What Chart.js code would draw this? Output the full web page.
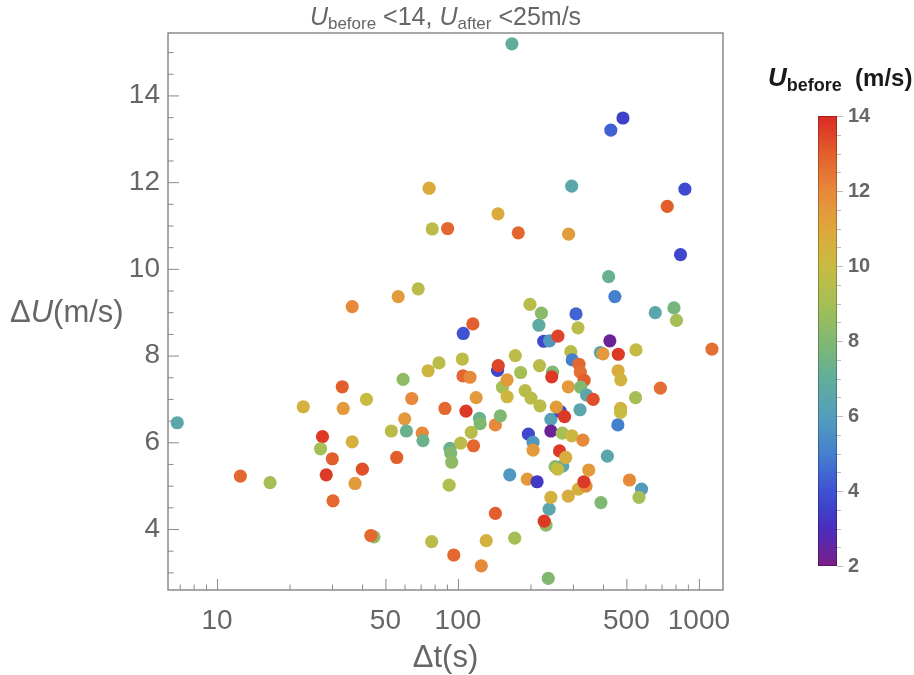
<!DOCTYPE html>
<html><head><meta charset="utf-8">
<script src="https://cdn.jsdelivr.net/npm/chart.js@4.4.0/dist/chart.umd.min.js"></script>
<style>html,body{margin:0;padding:0;background:#fff;overflow:hidden}</style>
</head><body>
<canvas id="c" width="914" height="675"></canvas>
<script>
// ---- data ----
const dt = [6.84,12.5,16.6,22.8,33.1,33.4,27.4,26.9,30.1,28.4,30.3,36.4,40.1,37.4,36.4,41.7,44.8,43.5,52.9,55.7,
56.5,59.2,60.1,61.1,64.3,68.4,71.1,71.6,75.2,75.9,77.8,78.2,83.4,88.3,90.6,91.9,92.6,93.3,94.2,96.1,
102.6,104.3,105.2,104.9,112.2,108,113.5,115.3,116,119,122.8,123.6,125,131,143,143,146,147,146.6,150,
153,160,160,164,167.5,172,173,178,182,190,194,196,199,201,205,205,213,216.7,218,219,
222,227,240,232,228,237,239,243,243,243,247,245,253,272,259,266,256,277,260,264,
271,280,287,287,288,294,296.5,297,298,309,315,318,322,334,316,321,323,330,340,333,
342,349,364,390,400,392,417,422,427,431,448,461,463,462,474,473,473,484,515,548,
546,578,564,659,692,739,788,807,839,875,1133];
const dU = [6.45,5.22,5.07,6.82,7.28,6.78,6.13,5.85,5.62,5.25,4.65,6.01,5.38,5.05,9.13,6.99,3.82,3.85,6.26,5.65,
9.36,7.45,6.54,6.26,7.01,9.54,6.21,6.04,7.65,11.86,3.71,10.92,7.83,6.78,10.93,5.01,5.86,5.75,5.54,3.40,
5.98,7.92,8.51,7.53,7.50,6.72,6.23,8.73,5.92,7.03,6.55,6.43,3.15,3.73,6.40,4.36,7.66,7.77,11.27,6.61,
7.27,7.44,7.05,5.25,15.19,3.79,8.0,10.83,7.61,7.19,5.15,6.19,9.18,7.02,6.0,5.82,5.09,8.70,7.77,6.84,
8.98,8.33,8.34,4.09,4.18,2.86,4.46,4.73,6.53,6.26,7.62,7.51,5.44,5.45,5.38,6.71,6.81,6.59,8.45,5.80,
6.21,5.65,7.28,4.76,10.80,8.09,11.91,6.15,7.90,8.96,8.64,7.80,7.62,7.43,4.92,6.75,7.27,6.05,4.99,5.09,
7.09,5.36,6.99,8.07,8.04,4.61,5.68,9.82,8.34,13.20,9.36,6.40,8.03,7.65,7.44,6.78,6.69,13.48,5.13,8.13,
7.03,4.92,4.73,8.99,7.25,11.44,9.10,8.81,10.33,11.84,8.15];
const uBefore = [6.5,12.8,9.0,10.5,13.0,11.4,13.7,9.0,13.0,13.7,12.8,10.5,13.3,11.4,12.0,10.0,8.4,12.8,9.6,13.0,
11.4,8.4,11.4,7.3,12.0,9.6,12.0,7.3,10.2,10.8,9.6,9.6,9.6,12.8,12.8,9.3,7.3,8.0,8.4,12.8,
9.6,9.7,4.0,12.8,12.0,13.7,9.6,13.0,12.8,11.4,7.3,8.0,12.0,10.5,12.0,13.0,3.7,13.5,10.8,8.0,
9.0,11.4,10.2,5.8,6.9,9.0,9.7,12.8,9.0,9.6,11.4,3.7,9.6,9.6,5.8,11.4,3.3,6.8,9.6,9.6,
8.3,3.7,5.8,8.4,13.7,8.0,6.5,10.5,6.2,2.3,8.0,13.7,8.4,6.5,10.0,3.7,11.4,13.7,13.5,13.7,
9.0,10.7,11.4,10.7,11.3,9.6,6.5,10.2,5.0,4.4,9.6,12.8,12.6,13.0,10.5,6.5,8.0,12.0,12.0,13.7,
6.5,11.4,13.3,6.5,11.4,8.0,6.5,7.2,2.3,4.3,5.0,5.0,13.7,10.7,10.4,10.5,10.0,3.5,12.0,9.9,
9.0,5.9,9.0,6.5,12.6,13.0,7.7,9.0,3.7,3.8,12.6];
const xTickValues = [10, 50, 100, 500, 1000];
const yTickValues = [4, 6, 8, 10, 12, 14];
const cbTickValues = [2, 4, 6, 8, 10, 12, 14];

// ---- colour scale ----
const U_MIN = 2, U_MAX = 14;
const stops = [[2,'#7b1d86'],[3,'#4a2ebe'],[3.5,'#3f40c8'],[4,'#3f52d2'],[5,'#4580cf'],[6,'#539ebb'],
  [7,'#62ae9a'],[8,'#80b871'],[9,'#a5be55'],[10,'#c8bb42'],[11,'#dfa63c'],[12,'#e7893a'],[13,'#e25e2c'],[14,'#da2a25']];
function hex2rgb(h){return [1,3,5].map(i=>parseInt(h.substr(i,2),16));}
function colorFor(u){
  u = Math.max(U_MIN, Math.min(U_MAX, u));
  for (let i=0;i<stops.length-1;i++){
    const [a,ca]=stops[i],[b,cb]=stops[i+1];
    if (u<=b){const t=(u-a)/(b-a);const A=hex2rgb(ca),B=hex2rgb(cb);
      const c=A.map((v,k)=>Math.round(v+(B[k]-v)*t));return `rgb(${c[0]},${c[1]},${c[2]})`;}
  }
  return stops[stops.length-1][1];
}

const points = dt.map((x,i)=>({x, y:dU[i]}));
const FONT = '"Liberation Sans", Arial, sans-serif';
const GREY = '#666666';

function drawRuns(ctx, runs, x, y, align){
  let w=0; runs.forEach(r=>{ctx.font=r.f; w+=ctx.measureText(r.t).width;});
  let cx = align==='center'? x-w/2 : x;
  runs.forEach(r=>{ctx.font=r.f; ctx.fillText(r.t, cx, y+(r.dy||0)); cx+=ctx.measureText(r.t).width;});
}

const decor = {
  id:'decor',
  afterDraw(chart){
    const ctx=chart.ctx, a=chart.chartArea, xs=chart.scales.x, ys=chart.scales.y;
    ctx.save();
    // frame
    ctx.strokeStyle='#7a7a7a'; ctx.lineWidth=1.3;
    ctx.strokeRect(a.left, a.top, a.right-a.left, a.bottom-a.top);
    // inward ticks left
    ctx.lineWidth=1; ctx.strokeStyle='#8a8a8a';
    for (let v=3; v<=15.5; v+=0.5){
      const py=ys.getPixelForValue(v); if(py<a.top+2||py>a.bottom) continue;
      const L = yTickValues.includes(v)? 11 : 5.5;
      ctx.beginPath(); ctx.moveTo(a.left, py+0.5); ctx.lineTo(a.left+L, py+0.5); ctx.stroke();
    }
    // inward ticks bottom
    for (let k=0;k<=3;k++){ for (let m=1;m<=9;m++){
      const v=m*Math.pow(10,k); if (v<xs.min||v>xs.max) continue;
      const px=xs.getPixelForValue(v);
      const L = xTickValues.includes(v)? 11 : 5.5;
      ctx.beginPath(); ctx.moveTo(px+0.5, a.bottom); ctx.lineTo(px+0.5, a.bottom-L); ctx.stroke();
    }}
    // title
    ctx.fillStyle=GREY; ctx.textBaseline='alphabetic';
    drawRuns(ctx,[{t:'U',f:'italic 25px '+FONT},{t:'before',f:'17px '+FONT,dy:4},{t:' <14, ',f:'25px '+FONT},
      {t:'U',f:'italic 25px '+FONT},{t:'after',f:'17px '+FONT,dy:4},{t:' <25m/s',f:'25px '+FONT}], (a.left+a.right)/2, 25, 'center');
    // axis titles
    drawRuns(ctx,[{t:'\u0394',f:'31px '+FONT},{t:'U',f:'italic 31px '+FONT},{t:'(m/s)',f:'31px '+FONT}], 10, 322, 'left');
    drawRuns(ctx,[{t:'\u0394t(s)',f:'31px '+FONT}], (a.left+a.right)/2, 667, 'center');
    // colour bar
    const bx=818, bw=19, bTop=116, bBot=566;
    const yOf = u => bBot-(u-U_MIN)/(U_MAX-U_MIN)*(bBot-bTop);
    const g=ctx.createLinearGradient(0,bBot,0,bTop);
    for (let u=U_MIN; u<=U_MAX+1e-9; u+=0.25) g.addColorStop((u-U_MIN)/(U_MAX-U_MIN), colorFor(u));
    ctx.fillStyle=g; ctx.fillRect(bx,bTop,bw,bBot-bTop);
    ctx.strokeStyle='rgba(0,0,0,0.25)'; ctx.lineWidth=1; ctx.strokeRect(bx+0.5,bTop+0.5,bw-1,bBot-bTop-1);
    ctx.strokeStyle='#bbbbbb';
    for (let u=U_MIN; u<=U_MAX+1e-9; u+=0.5){
      const py=Math.round(yOf(u))+0.5; const L = cbTickValues.includes(u)?6:4;
      ctx.beginPath(); ctx.moveTo(bx+bw, py); ctx.lineTo(bx+bw+L, py); ctx.stroke();
    }
    ctx.fillStyle=GREY; ctx.textBaseline='middle'; ctx.font='bold 20px '+FONT;
    cbTickValues.forEach(u=>ctx.fillText(String(u), bx+bw+11, yOf(u)));
    ctx.textBaseline='alphabetic'; ctx.fillStyle='#1a1a1a';
    drawRuns(ctx,[{t:'U',f:'italic bold 26px '+FONT},{t:'before',f:'bold 18px '+FONT,dy:5},{t:'  (m/s)',f:'bold 24px '+FONT}], 768, 86, 'left');
    ctx.restore();
  }
};

new Chart(document.getElementById('c'), {
  type:'scatter',
  data:{datasets:[{data:points,
    pointBackgroundColor: uBefore.map(colorFor),
    pointBorderWidth:0, pointRadius:6.6, pointHoverRadius:6.6}]},
  options:{
    responsive:false, animation:false, devicePixelRatio:1,
    layout:{padding:{left:0,top:33,right:191,bottom:0}},
    plugins:{legend:{display:false}, tooltip:{enabled:false}, title:{display:false}},
    scales:{
      x:{type:'logarithmic', min:6.26, max:1259,
        afterBuildTicks:s=>{s.ticks=xTickValues.map(v=>({value:v}));},
        afterFit:s=>{s.height=85; s.paddingLeft=0; s.paddingRight=0;},
        ticks:{autoSkip:false, maxRotation:0, padding:14, color:GREY, font:{family:FONT,size:28},
          callback:v=>String(v)},
        grid:{display:false, drawTicks:false}, border:{display:false}},
      y:{type:'linear', min:2.593, max:15.44,
        afterBuildTicks:s=>{s.ticks=yTickValues.map(v=>({value:v}));},
        afterFit:s=>{s.width=168; s.paddingTop=0; s.paddingBottom=0;},
        ticks:{padding:8, color:GREY, font:{family:FONT,size:28}, callback:v=>String(v)},
        grid:{display:false, drawTicks:false}, border:{display:false}}
    }
  },
  plugins:[decor]
});
</script>
</body></html>
